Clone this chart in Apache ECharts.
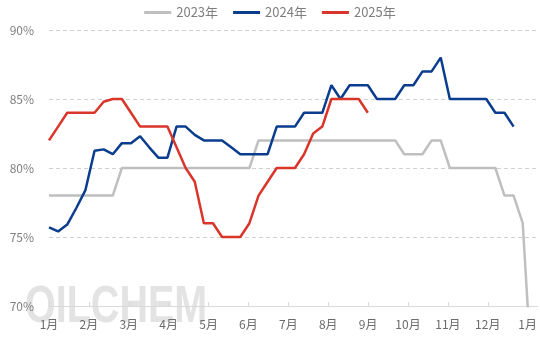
<!DOCTYPE html>
<html>
<head>
<meta charset="utf-8">
<script src="https://cdn.jsdelivr.net/npm/echarts@6/dist/echarts.min.js"></script>
<style>html,body{margin:0;padding:0;background:#fff;}#c{width:540px;height:346px;}</style>
</head>
<body>
<div id="c"></div>
<script>
// Month tick labels
const monthLabels = ['1月','2月','3月','4月','5月','6月','7月','8月','9月','10月','11月','12月','1月'];
const seriesNames = ['2023年','2024年','2025年'];
// Weekly values (index = week number from the start of the year)
const v2023 = [78,78,78,78,78,78,78,78,
  80,80,80,80,80,80,80,80,80,80,80,80,80,80,80,
  82,82,82,82,82,82,82,82,82,82,82,82,82,82,82,82,
  81,81,81,82,82,
  80,80,80,80,80,80,
  78,78,76,65];
const v2024 = [75.7,75.4,75.9,77.1,78.4,81.25,81.35,81.0,81.8,81.8,
  82.3,81.5,80.75,80.75,83,83,82.4,82,82,82,
  81.5,81,81,81,81,83,83,83,84,84,
  84,86,85,86,86,86,85,85,85,86,
  86,87,87,88,85,85,85,85,85,84,
  84,83];
const v2025 = [82,83,84,84,84,84,84.8,85,85,84,
  83,83,83,83,81.5,80,79,76,76,75,
  75,75,76,78,79,80,80,80,81,82.5,
  83,85,85,85,85,84];
const yTicks = [70,75,80,85,90];

const toPairs = arr => arr.map((v,i)=>[i,v]);
const colors = ['#bfbfbf','#0b3d8e','#d9352b'];
const font = '"Noto Sans CJK SC","Noto Sans",sans-serif';

const chart = echarts.init(document.getElementById('c'));
chart.setOption({
  animation:false,
  color: colors,
  textStyle:{fontFamily:font},
  legend:{
    top:1, left:'center',
    icon:'rect', itemWidth:27, itemHeight:3, itemGap:15,
    textStyle:{color:'#7f7f7f', fontSize:13, fontFamily:font},
    data: seriesNames
  },
  grid:{left:49, right:0, top:30, bottom:40},
  xAxis:[
    {type:'value', min:0, max:53.64, show:false, position:'top'},
    {type:'value', min:0, max:12.25, position:'bottom',
      axisLine:{show:true, lineStyle:{color:'#d9d9d9', width:1}},
      axisTick:{show:true, inside:true, length:4, lineStyle:{color:'#d9d9d9'},
        customValues:[0,1,2,3,4,5,6,7,8,9,10,11,12]},
      axisLabel:{color:'#6b6b6b', fontSize:12, margin:12, fontFamily:font,
        customValues:[0,1,2,3,4,5,6,7,8,9,10,11,12],
        formatter:v=>monthLabels[Math.round(v)]},
      splitLine:{show:false}
    }
  ],
  yAxis:{
    type:'value', min:yTicks[0], max:yTicks[yTicks.length-1], interval:5,
    axisLine:{show:false}, axisTick:{show:false},
    axisLabel:{formatter:'{value}%', color:'#7f7f7f', fontSize:12, margin:15, fontFamily:font},
    splitLine:{lineStyle:{color:'#d0d0d0', type:[4,3], width:1}}
  },
  graphic:[{
    type:'text', x:25, y:282, z:-10, zlevel:0, scaleX:0.76, silent:true,
    style:{text:'OILCHEM', font:'bold 52px "Liberation Sans", Arial, sans-serif',
      verticalAlign:'top', fill:'#e3e3e3'}
  }],
  series:[
    {name:seriesNames[0], type:'line', xAxisIndex:0, data:toPairs(v2023), symbol:'none', lineStyle:{width:2.5, color:colors[0]}, clip:true},
    {name:seriesNames[1], type:'line', xAxisIndex:0, data:toPairs(v2024), symbol:'none', lineStyle:{width:2.5, color:colors[1]}},
    {name:seriesNames[2], type:'line', xAxisIndex:0, data:toPairs(v2025), symbol:'none', lineStyle:{width:2.5, color:colors[2]}}
  ]
});
</script>
</body>
</html>
